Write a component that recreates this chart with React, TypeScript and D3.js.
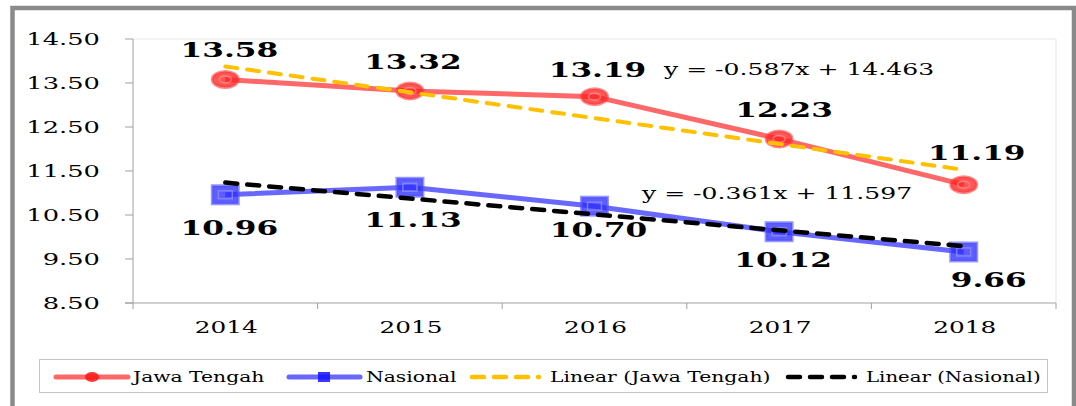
import React from "react";
import * as d3 from "d3";

const years = ["2014", "2015", "2016", "2017", "2018"];
const jawaTengah = [13.58, 13.32, 13.19, 12.23, 11.19];
const nasional = [10.96, 11.13, 10.7, 10.12, 9.66];
const yTicks = [8.5, 9.5, 10.5, 11.5, 12.5, 13.5, 14.5];
const eqJawa = "y = -0.587x + 14.463";
const eqNas = "y = -0.361x + 11.597";
const legendLabels = ["Jawa Tengah", "Nasional", "Linear (Jawa Tengah)", "Linear (Nasional)"];
// label offsets (dx, dy from point to baseline)
const jawaLabelOff = [[4, -22], [3, -22], [3, -20], [5, -22], [13, -25]];
const nasLabelOff = [[4, 40], [3, 40], [4, 31], [4, 35], [25, 35]];

function regression(vals: number[]) {
  const xs = vals.map((_, i) => i + 1);
  const mx = d3.mean(xs)!;
  const my = d3.mean(vals)!;
  const slope = d3.sum(xs, (x, i) => (x - mx) * (vals[i] - my)) / d3.sum(xs, (x) => (x - mx) ** 2);
  const icpt = my - slope * mx;
  return xs.map((x) => slope * x + icpt);
}

const FONT = "'DejaVu Serif', serif";

function SText(props: { x: number; y: number; sx: number; size: number; anchor?: string; weight?: string; children: any; fill?: string }) {
  const { x, y, sx, size, anchor = "start", weight = "normal", children, fill = "#000" } = props;
  return (
    <text
      transform={`translate(${x},${y}) scale(${sx},1)`}
      textAnchor={anchor as any}
      fontFamily={FONT}
      fontSize={size}
      fontWeight={weight}
      fill={fill}
    >
      {children}
    </text>
  );
}

export default function App() {
  const W = 1076, H = 406;
  const left = 133, right = 1056, top = 39, bottom = 303;
  const x = d3.scaleBand().domain(years).range([left, right]);
  const cx = (i: number) => x(years[i])! + x.bandwidth() / 2;
  const y = d3.scaleLinear().domain([8.5, 14.5]).range([bottom, top]);
  const line = d3.line<number>().x((_, i) => cx(i)).y((v) => y(v));
  const trendJ = regression(jawaTengah);
  const trendN = regression(nasional);
  const redLine = "rgba(255,40,40,0.7)";
  const blueLine = "rgba(40,40,255,0.7)";
  const bandTicks = years.map((yr) => x(yr)!).concat([right]);

  return (
    <svg width={W} height={H} style={{ position: "absolute", left: 0, top: 0 }}>
      <rect x={0} y={0} width={W} height={H} fill="#fff" />
      <rect x={12.5} y={8} width={1061.5} height={430} fill="#fff" stroke="#8a8a8a" strokeWidth={4.5} />
      {/* plot area border */}
      <path d={`M${left},${top}H${right}V${bottom}`} fill="none" stroke="#e6e6e6" strokeWidth={1} />
      {/* y axis */}
      <line x1={left} x2={left} y1={top} y2={bottom} stroke="#a0a0a0" strokeWidth={1} />
      {yTicks.map((t) => (
        <g key={t}>
          <line x1={left - 8} x2={left} y1={y(t)} y2={y(t)} stroke="#a0a0a0" />
          <SText x={100} y={y(t) + 6} sx={1.56} size={16.5} anchor="end">
            {t.toFixed(2)}
          </SText>
        </g>
      ))}
      {/* x axis */}
      <line x1={left - 8} x2={right} y1={bottom} y2={bottom} stroke="#a0a0a0" />
      {bandTicks.map((bx, i) => (
        <line key={i} x1={bx} x2={bx} y1={bottom} y2={bottom + 6} stroke="#a0a0a0" />
      ))}
      {years.map((yr, i) => (
        <SText key={yr} x={cx(i) + 1} y={333} sx={1.5} size={16.5} anchor="middle">
          {yr}
        </SText>
      ))}
      {/* series lines */}
      <path d={line(jawaTengah)!} fill="none" stroke={redLine} strokeWidth={5} />
      <path d={line(nasional)!} fill="none" stroke={blueLine} strokeWidth={5} />
      {jawaTengah.map((v, i) => (
        <g key={i}>
          <ellipse cx={cx(i)} cy={y(v)} rx={13} ry={8} fill="rgba(255,30,30,0.75)" stroke="rgba(255,60,60,0.6)" strokeWidth={3} />
          <ellipse cx={cx(i)} cy={y(v)} rx={6} ry={3.5} fill="none" stroke="rgba(255,150,150,0.7)" strokeWidth={1.5} />
        </g>
      ))}
      {nasional.map((v, i) => (
        <g key={i}>
          <rect x={cx(i) - 13} y={y(v) - 9} width={26} height={18} fill="rgba(40,40,255,0.75)" stroke="rgba(80,80,255,0.6)" strokeWidth={3} />
          <rect x={cx(i) - 7} y={y(v) - 4} width={14} height={8} fill="none" stroke="rgba(140,140,255,0.8)" strokeWidth={1.5} />
        </g>
      ))}
      {/* trend lines */}
      <path d={line(trendJ)!} fill="none" stroke="#FFC000" strokeWidth={4} strokeDasharray="12 10" strokeLinecap="round" />
      <path d={line(trendN)!} fill="none" stroke="#000" strokeWidth={4.5} strokeDasharray="12 10" strokeLinecap="round" />
      {/* data labels */}
      {jawaTengah.map((v, i) => (
        <SText key={i} x={cx(i) + jawaLabelOff[i][0]} y={y(v) + jawaLabelOff[i][1]} sx={1.52} size={20.5} anchor="middle" weight="bold">
          {v.toFixed(2)}
        </SText>
      ))}
      {nasional.map((v, i) => (
        <SText key={i} x={cx(i) + nasLabelOff[i][0]} y={y(v) + nasLabelOff[i][1]} sx={1.52} size={20.5} anchor="middle" weight="bold">
          {v.toFixed(2)}
        </SText>
      ))}
      {/* equations */}
      <SText x={664} y={75} sx={1.52} size={16.5}>{eqJawa}</SText>
      <SText x={642} y={199} sx={1.52} size={16.5}>{eqNas}</SText>
      {/* legend */}
      <rect x={39.5} y={359.5} width={1008} height={33} fill="#fff" stroke="#c4c4c4" strokeWidth={1} />
      <line x1={56} x2={128} y1={377} y2={377} stroke={redLine} strokeWidth={5} strokeLinecap="round" />
      <ellipse cx={92} cy={377} rx={7} ry={5} fill="rgba(255,20,20,0.85)" />
      <SText x={133} y={382} sx={1.4} size={14.5}>{legendLabels[0]}</SText>
      <line x1={289} x2={360} y1={377} y2={377} stroke={blueLine} strokeWidth={5} strokeLinecap="round" />
      <rect x={318} y={372} width={12} height={10} fill="rgba(20,20,255,0.85)" />
      <SText x={366} y={382} sx={1.4} size={14.5}>{legendLabels[1]}</SText>
      <line x1={472} x2={539} y1={377} y2={377} stroke="#FFC000" strokeWidth={4.5} strokeDasharray="12 10" strokeLinecap="round" />
      <SText x={550} y={382} sx={1.4} size={14.5}>{legendLabels[2]}</SText>
      <line x1={788} x2={855} y1={377} y2={377} stroke="#000" strokeWidth={4.5} strokeDasharray="12 10" strokeLinecap="round" />
      <SText x={866} y={382} sx={1.36} size={14.5}>{legendLabels[3]}</SText>
    </svg>
  );
}
